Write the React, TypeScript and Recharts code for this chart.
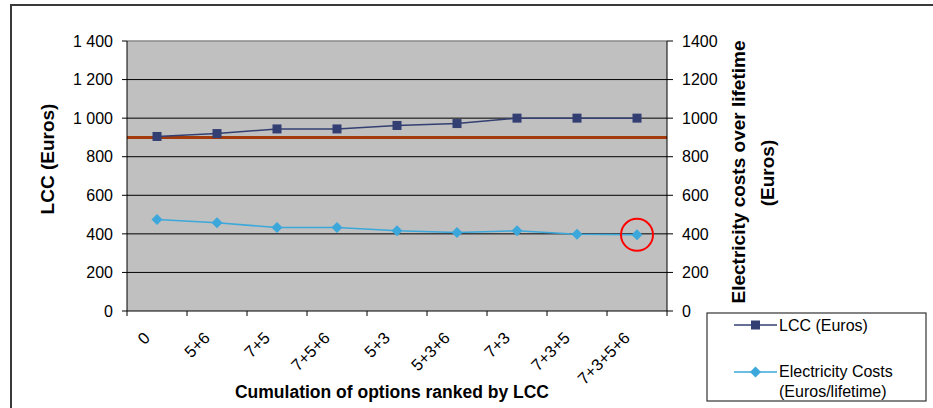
import { CartesianGrid, Line, LineChart, ReferenceDot, ReferenceLine, XAxis, YAxis } from "recharts";

// options ranked by life cycle cost
const options = ["0", "5+6", "7+5", "7+5+6", "5+3", "5+3+6", "7+3", "7+3+5", "7+3+5+6"];
const lccEuros = [905, 920, 944, 944, 962, 972, 1000, 1000, 1000];
const electricityCosts = [475, 457, 433, 433, 416, 407, 416, 398, 395];
const yTicks = [0, 200, 400, 600, 800, 1000, 1200, 1400];
const gridValues = [200, 400, 600, 800, 1000, 1200];
const baseLcc = 900;
const chosenOption = "7+3+5+6";
const chosenCost = 395;

const data = options.map((option, i) => ({ option, lcc: lccEuros[i], electricity: electricityCosts[i] }));

const FONT = "'Liberation Sans', Arial, sans-serif";
const NAVY = "#333f72";
const SKY = "#3ba7da";
const BRICK = "#a23a0c";

const spaced = (v: number) => (v >= 1000 ? `${Math.floor(v / 1000)} ${String(v % 1000).padStart(3, "0")}` : String(v));

function SquareDot({ cx, cy, index }: any) {
  return <rect key={`sq-${index}`} x={cx - 4.5} y={cy - 4.5} width={9} height={9} fill={NAVY} />;
}

function DiamondDot({ cx, cy, index }: any) {
  return <path key={`dm-${index}`} d={`M${cx},${cy - 5.5}L${cx + 5.5},${cy}L${cx},${cy + 5.5}L${cx - 5.5},${cy}Z`} fill={SKY} />;
}

function OptionTick({ x, y, payload, index, visibleTicksCount }: any) {
  const half = payload.offset || 30;
  const last = index === visibleTicksCount - 1;
  return (
    <g>
      <line x1={x - half} x2={x - half} y1={y} y2={y + 5} stroke="#000" />
      {last && <line x1={x + half} x2={x + half} y1={y} y2={y + 5} stroke="#000" />}
      <text
        x={x - 6}
        y={y + 28}
        transform={`rotate(-45 ${x - 6} ${y + 28})`}
        textAnchor="end"
        fontSize={16.5}
        fontFamily={FONT}
        fill="#000"
      >
        {payload.value}
      </text>
    </g>
  );
}

function LegendBox() {
  return (
    <svg width={222} height={90} style={{ position: "absolute", left: 706, top: 312 }}>
      <rect x={1} y={1} width={219} height={88} fill="#fff" stroke="#333" strokeWidth={1.2} />
      <line x1={28} x2={71} y1={13} y2={13} stroke={NAVY} strokeWidth={1.5} />
      <rect x={45} y={8.5} width={9} height={9} fill={NAVY} />
      <text x={73} y={19} fontSize={16} fontFamily={FONT} fill="#000">LCC (Euros)</text>
      <line x1={28} x2={71} y1={60} y2={60} stroke={SKY} strokeWidth={1.5} />
      <path d="M49.5,54.5L55,60L49.5,65.5L44,60Z" fill={SKY} />
      <text x={73} y={65} fontSize={16} fontFamily={FONT} fill="#000">Electricity Costs</text>
      <text x={73} y={85} fontSize={16} fontFamily={FONT} fill="#000">(Euros/lifetime)</text>
    </svg>
  );
}

export default function App() {
  return (
    <div style={{ position: "absolute", left: 0, top: 0, width: 933, height: 408, overflow: "hidden", background: "#fff" }}>
      <div style={{ position: "absolute", left: 10, top: 4, width: 1000, height: 500, borderTop: "2px solid #3a3a3a", borderLeft: "2px solid #3a3a3a" }} />
      <LineChart width={933} height={408} data={data} margin={{ top: 41, right: 186, bottom: 37, left: 47 }} style={{ position: "absolute", left: 0, top: 0 }}>
        <CartesianGrid yAxisId="left" vertical={false} horizontalValues={gridValues} stroke="#000" fill="#c0c0c0" fillOpacity={1} />
        <XAxis dataKey="option" scale="band" height={60} tickLine={false} tickSize={0} tickMargin={0} axisLine={{ stroke: "#000" }} tick={<OptionTick />} interval={0} />
        <YAxis
          yAxisId="left"
          width={80}
          domain={[0, 1400]}
          ticks={yTicks}
          tickFormatter={spaced}
          tickSize={5}
          tickMargin={9}
          axisLine={{ stroke: "#000" }}
          tickLine={{ stroke: "#000" }}
          tick={{ fill: "#000", fontSize: 16, fontFamily: FONT }}
        />
        <YAxis
          yAxisId="right"
          orientation="right"
          width={80}
          domain={[0, 1400]}
          ticks={yTicks}
          tickSize={6}
          tickMargin={9}
          axisLine={{ stroke: "#000" }}
          tickLine={{ stroke: "#000" }}
          tick={{ fill: "#000", fontSize: 16, fontFamily: FONT, textAnchor: "start" }}
        />
        <ReferenceLine yAxisId="left" y={1400} stroke="#8a8a8a" strokeWidth={1.5} />
        <ReferenceLine yAxisId="left" y={baseLcc} stroke={BRICK} strokeWidth={3} />
        <Line yAxisId="left" dataKey="lcc" stroke={NAVY} strokeWidth={1.5} dot={SquareDot} isAnimationActive={false} />
        <Line yAxisId="right" dataKey="electricity" stroke={SKY} strokeWidth={1.5} dot={DiamondDot} isAnimationActive={false} />
        <ReferenceDot yAxisId="right" x={chosenOption} y={chosenCost} r={16} fill="none" stroke="#ff0000" strokeWidth={2} />
      </LineChart>
      <svg width={933} height={408} style={{ position: "absolute", left: 0, top: 0, pointerEvents: "none" }}>
        <text transform="translate(54 159) rotate(-90)" textAnchor="middle" fontSize={19} fontWeight="bold" fontFamily={FONT} fill="#000">
          LCC (Euros)
        </text>
        <text transform="translate(745 172) rotate(-90)" textAnchor="middle" fontSize={19} fontWeight="bold" fontFamily={FONT} fill="#000">
          Electricity costs over lifetime
        </text>
        <text transform="translate(774 173) rotate(-90)" textAnchor="middle" fontSize={19} fontWeight="bold" fontFamily={FONT} fill="#000">
          (Euros)
        </text>
        <text x={392} y={398} textAnchor="middle" fontSize={17.5} fontWeight="bold" fontFamily={FONT} fill="#000">
          Cumulation of options ranked by LCC
        </text>
      </svg>
      <LegendBox />
    </div>
  );
}
